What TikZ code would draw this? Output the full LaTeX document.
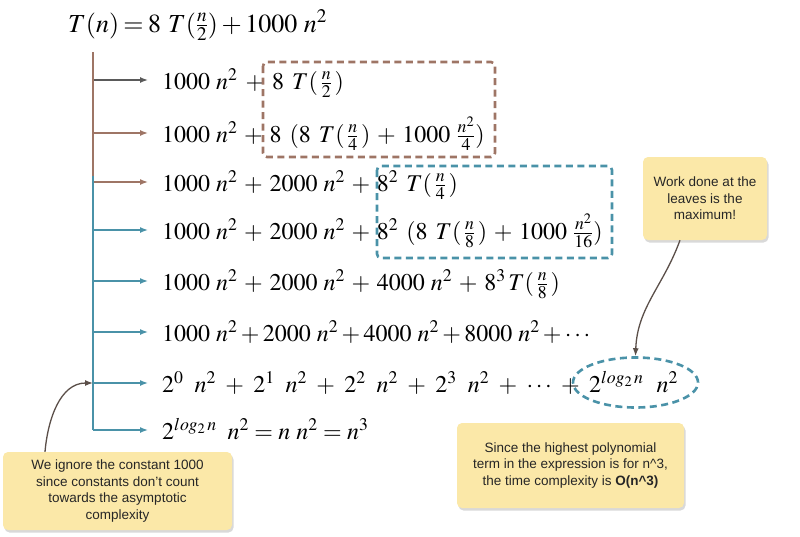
\documentclass[tikz,border=0pt]{standalone}
\usepackage{mathptmx}
\usepackage{fontspec}
\setmainfont{Liberation Serif}
\setsansfont{Liberation Sans}
\usetikzlibrary{arrows.meta, shapes.geometric, shadows}
\definecolor{recbrown}{HTML}{9E7565}
\definecolor{recteal}{HTML}{4A92A8}
\definecolor{recgray}{HTML}{5A5A5A}
\definecolor{notefill}{HTML}{FBE8A8}
\definecolor{notegray}{HTML}{5B4F49}
\newcommand{\gap}{\hspace{8pt}}
\newcommand{\wgap}{\hspace{11pt}}
\newcommand{\fewdots}{\mathinner{\mathord{\cdot}\mkern2mu\mathord{\cdot}\mkern2mu\mathord{\cdot}}}

\begin{document}
\begin{tikzpicture}[x=1pt, y=-1pt,
    eq/.style={anchor=base west, inner sep=0pt, font=\fontsize{24}{28}\selectfont},
    note/.style={fill=notefill, rounded corners=5pt, align=center, inner sep=0pt,
      font=\sffamily\fontsize{13.5}{16.5}\selectfont, text=black!85,
      drop shadow={shadow xshift=1.5pt, shadow yshift=-2.5pt, fill=black!15, opacity=1}},
    hook/.style={line width=1.4pt, -{Latex[length=8pt, width=6pt]}},
    frame/.style={line width=2.6pt, dash pattern=on 7pt off 4.5pt, rounded corners=4pt},
    pointer/.style={draw=notegray, line width=1.3pt, -{Latex[length=8pt, width=6pt]}}]
  \useasboundingbox (0,0) rectangle (800,536);

  \node[eq, font=\fontsize{26}{30}\selectfont] (top) at (68,32)
    {$\thickmuskip=3mu T(n) = 8\hspace{7pt}T(\frac{n}{2}) + 1000\ n^2$};
  \node[eq] (r1) at (162,89) {$\medmuskip=6mu 1000\ n^2 + 8\gap T(\,\frac{n}{2}\,)$};
  \node[eq] (r2) at (162,142) {$\medmuskip=5mu 1000\ n^2 + 8\gap (8\gap T(\,\frac{n}{4}\,) + 1000\ \frac{n^2}{4})$};
  \node[eq] (r3) at (162,191) {$\medmuskip=5mu 1000\ n^2 + 2000\ n^2 + 8^2\gap T(\,\frac{n}{4}\,)$};
  \node[eq] (r4) at (162,239) {$\medmuskip=5mu 1000\ n^2 + 2000\ n^2 + 8^2\gap (8\gap T(\,\frac{n}{8}\,) + 1000\ \frac{n^2}{16})$};
  \node[eq] (r5) at (162,290) {$\medmuskip=5mu 1000\ n^2 + 2000\ n^2 + 4000\ n^2 + 8^3\, T(\,\frac{n}{8}\,)$};
  \node[eq] (r6) at (162,341) {$1000\ n^2 + 2000\ n^2 + 4000\ n^2 + 8000\ n^2 + \fewdots$};
  \node[eq] (r7) at (162,392)
    {$\medmuskip=7mu 2^0\wgap n^2 + 2^1\wgap n^2 + 2^2\wgap n^2 + 2^3\wgap n^2 + \fewdots + 2^{log_2\,n}\hspace{13pt}n^2$};
  \node[eq] (r8) at (162,439) {$2^{log_2\,n}\wgap n^2 = n\ n^2 = n^3$};

  \coordinate (vtop) at (93,52);
  \coordinate (vmid) at (93,176);
  \foreach \i/\y/\c in {1/80/recgray, 2/133/recbrown, 3/182/recbrown, 4/230/recteal,
                        5/281/recteal, 6/332/recteal, 7/383/recteal, 8/430/recteal}{
    \coordinate (s\i) at (93,\y);
    \draw[hook, draw=\c, fill=\c] (s\i) -- ([xshift=-14pt]s\i -| r\i.west);
  }
  \draw[recbrown, line width=1.4pt] (vtop) -- (vmid);
  \draw[recteal, line width=1.4pt] (vmid) -- (s8);

  \draw[frame, draw=recbrown] (263,62) rectangle (495,157);
  \draw[frame, draw=recteal] (377,166) rectangle (612,258);
  \node[ellipse, frame, draw=recteal, minimum width=125, minimum height=50] (leaf) at (635.5,382.5) {};

  \node[note, minimum width=124, minimum height=83] (work) at (705,198.5)
    {Work done at the\\leaves is the\\maximum!};
  \node[note, minimum width=229, minimum height=78] (ignore) at (117.5,491)
    {We ignore the constant 1000\\since constants don't count\\towards the asymptotic\\complexity};
  \node[note, minimum width=227, minimum height=85] (since) at (570.5,465.5)
    {Since the highest polynomial\\term in the expression is for n\textasciicircum3,\\the time complexity is \textbf{O(n\textasciicircum3)}};

  \draw[pointer] ([xshift=-25pt]work.south) to[out=250, in=88] (leaf.north);
  \draw[pointer] ([xshift=-72.5pt]ignore.north) to[out=85, in=180] (s7);
\end{tikzpicture}
\end{document}
